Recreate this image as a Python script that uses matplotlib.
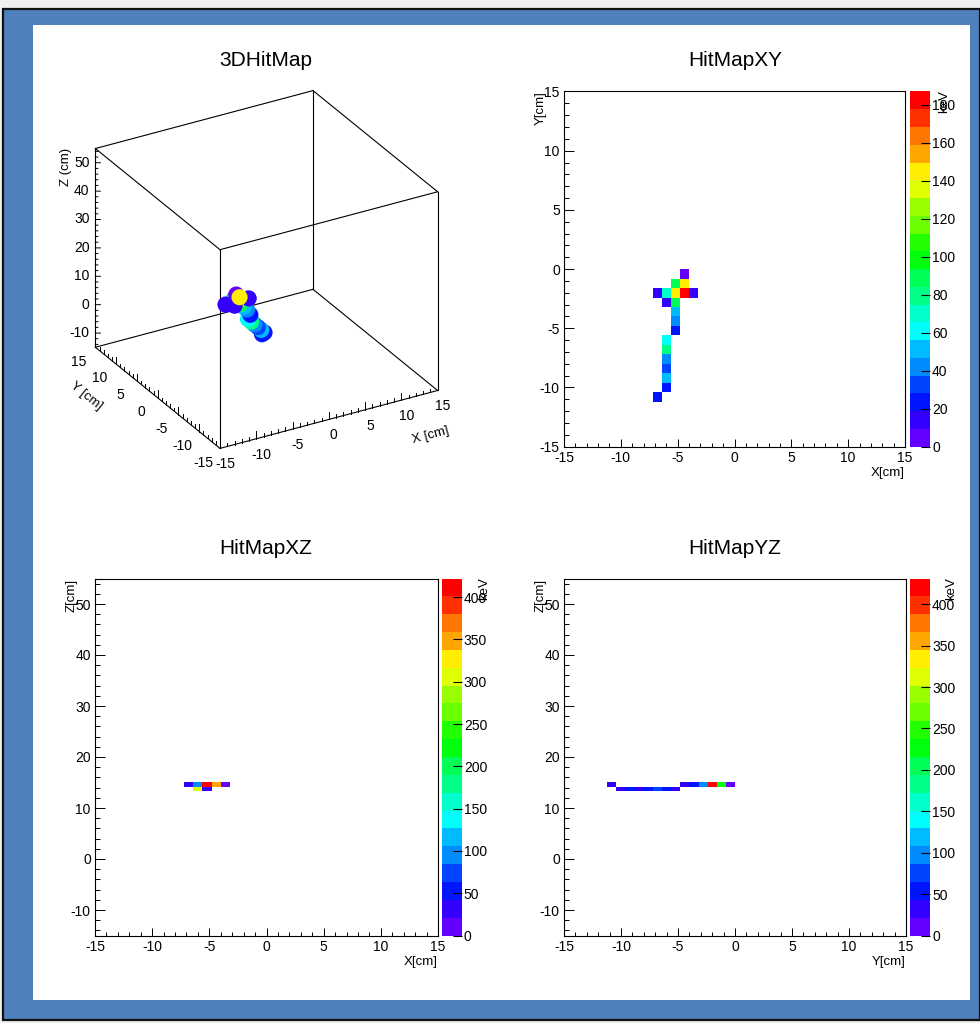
import colorsys
import math
import numpy as np
import matplotlib
matplotlib.use("Agg")
import matplotlib.pyplot as plt
from matplotlib.colors import ListedColormap, Normalize
from matplotlib.patches import Rectangle
from matplotlib.ticker import MultipleLocator
from mpl_toolkits.mplot3d import proj3d

# ------------------------------------------------------------------ data
# hits of the event (cm, cm, cm, keV), in drawing order
hit_x = [-4.4, -6.8, -6.0, -6.0, -6.0, -6.0, -6.0, -6.0, -5.2, -5.2,
         -5.2, -5.2, -5.2, -5.2, -6.0, -6.0, -6.8, -4.4, -3.6, -4.4]
hit_y = [-2.0, -10.8, -10.0, -9.2, -8.4, -7.6, -6.8, -6.0, -5.2, -4.4,
         -3.6, -2.8, -2.0, -1.2, -2.0, -2.8, -2.0, -0.4, -2.0, -1.2]
hit_z = [14.65, 14.65, 13.75, 13.75, 13.75, 13.75, 13.75, 13.75, 13.75, 14.65,
         14.65, 14.65, 14.65, 14.65, 14.65, 14.65, 14.65, 14.65, 14.65, 14.65]
hit_e = [187, 24, 26, 52, 32, 46, 80, 60, 24, 42,
         56, 90, 144, 90, 72, 16, 14, 8, 14, 145]

# histogram binning (cm)
xy_bin_lo, xy_bin_w, xy_nbins = -15.2, 0.8, 38
z_bin_ref, z_bin_w = 14.2, 0.9

# axis ranges and ticks
x_range = (-15, 15)
y_range = (-15, 15)
z_range = (-15, 55)
xy_ticks = [-15, -10, -5, 0, 5, 10, 15]
z_ticks = [-10, 0, 10, 20, 30, 40, 50]
cbar_xy_ticks = [0, 20, 40, 60, 80, 100, 120, 140, 160, 180]
cbar_z_ticks = [0, 50, 100, 150, 200, 250, 300, 350, 400]
titles = ["3DHitMap", "HitMapXY", "HitMapXZ", "HitMapYZ"]

# ------------------------------------------------------------------ style
plt.rcParams['font.family'] = ['Liberation Sans', 'DejaVu Sans']
plt.rcParams['axes.unicode_minus'] = False

W, H = 980, 1023
fig = plt.figure(figsize=(W / 100, H / 100), dpi=100, facecolor='#f0f0f0')


def rect(x0, y0, x1, y1):
    return [x0 / W, 1 - y1 / H, (x1 - x0) / W, (y1 - y0) / H]


fig.patches.append(Rectangle((3 / W, 1 - 1020 / H), (980 - 3) / W, (1020 - 9) / H,
                             transform=fig.transFigure, facecolor='#4f81bd',
                             edgecolor='#111111', linewidth=1.6, zorder=-10))
fig.patches.append(Rectangle((33 / W, 1 - 1000 / H), (970 - 33) / W, (1000 - 25) / H,
                             transform=fig.transFigure, facecolor='white',
                             edgecolor='none', zorder=-9))


def root_palette(n_levels=20, n_colors=50):
    hues = [280 - (i + 1) * 280 / n_colors for i in range(n_colors - 1)] + [0]
    cols = []
    for k in range(n_levels):
        p = int((k + 0.99) * n_colors / n_levels)
        cols.append(colorsys.hls_to_rgb(hues[p] / 360, 0.5, 1.0))
    return ListedColormap(cols)


cmap = root_palette()
FS = 10
TFS = 9.5

for t, (cx, cy) in zip(titles, [(266, 60), (735, 60), (266, 548), (735, 548)]):
    fig.text(cx / W, 1 - cy / H, t, ha='center', va='center', fontsize=15)

# ------------------------------------------------------------------ 2D maps
xy_edges = xy_bin_lo + xy_bin_w * np.arange(xy_nbins + 1)
z_edges = z_bin_ref + z_bin_w * np.arange(-33, 46)


def style_2d(ax, ylim, ymaj, ymin, xlabel, ylabel):
    ax.set_xlim(*x_range)
    ax.set_ylim(*ylim)
    ax.xaxis.set_major_locator(MultipleLocator(5))
    ax.xaxis.set_minor_locator(MultipleLocator(1))
    ax.yaxis.set_major_locator(MultipleLocator(ymaj))
    ax.yaxis.set_minor_locator(MultipleLocator(ymin))
    ax.tick_params(axis='x', which='major', direction='in', length=5.8, width=0.7,
                   labelsize=FS, pad=3.0, top=False)
    ax.tick_params(axis='x', which='minor', direction='in', length=2.9, width=0.7, top=False)
    ax.tick_params(axis='y', which='major', direction='in', length=7.2, width=0.7,
                   labelsize=FS, pad=3.0, right=False)
    ax.tick_params(axis='y', which='minor', direction='in', length=3.6, width=0.7, right=False)
    for s in ax.spines.values():
        s.set_linewidth(0.8)
    ax.annotate(xlabel, xy=(1, 0), xycoords='axes fraction', xytext=(0, -19),
                textcoords='offset points', ha='right', va='center', fontsize=TFS)
    ax.annotate(ylabel, xy=(0, 1), xycoords='axes fraction', xytext=(-16.5, 0),
                textcoords='offset points', ha='center', va='top', rotation=90, fontsize=TFS)


def colorbar(mesh, cax, ticks):
    cb = fig.colorbar(mesh, cax=cax, ticks=ticks)
    cb.outline.set_visible(False)
    cax.tick_params(direction='in', length=6.5, width=0.8, color='black',
                    labelsize=FS, pad=1.5)
    cax.minorticks_off()
    return cb


def draw_map(ax_rect, cax_rect, u, v, uedges, vedges, ylim, ymaj, ymin,
             xlabel, ylabel, ticks, kev_pos):
    ax = fig.add_axes(ax_rect)
    hist, _, _ = np.histogram2d(u, v, bins=[uedges, vedges], weights=hit_e)
    hist = np.ma.masked_where(hist <= 0, hist)
    mesh = ax.pcolormesh(uedges, vedges, hist.T, cmap=cmap,
                         norm=Normalize(0, hist.max()), edgecolors='none',
                         antialiased=False)
    style_2d(ax, ylim, ymaj, ymin, xlabel, ylabel)
    cax = fig.add_axes(cax_rect)
    colorbar(mesh, cax, ticks)
    fig.text(kev_pos[0] / W, 1 - kev_pos[1] / H, 'keV', rotation=90,
             ha='center', va='top', fontsize=TFS)
    return ax


draw_map(rect(564, 91.5, 905, 446.7), rect(910, 91.5, 930, 446.7),
         hit_x, hit_y, xy_edges, xy_edges, y_range, 5, 1,
         'X[cm]', 'Y[cm]', cbar_xy_ticks, (944, 90))
draw_map(rect(95, 578.5, 438, 935.5), rect(441.7, 578.5, 461.7, 935.5),
         hit_x, hit_z, xy_edges, z_edges, z_range, 10, 2,
         'X[cm]', 'Z[cm]', cbar_z_ticks, (484, 577))
draw_map(rect(564, 578.5, 906, 935.5), rect(910, 578.5, 930, 935.5),
         hit_y, hit_z, xy_edges, z_edges, z_range, 10, 2,
         'Y[cm]', 'Z[cm]', cbar_z_ticks, (951, 577))

# ------------------------------------------------------------------ 3D view
ax3 = fig.add_axes(rect(60, 60, 470, 470), projection='3d',
                   proj_type='ortho', computed_zorder=False)
ax3.view_init(elev=27.7, azim=-119.8)
ax3.set_box_aspect((1, 1, 0.895))
ax3.set_xlim(*x_range)
ax3.set_ylim(*y_range)
ax3.set_zlim(*z_range)
ax3.set_axis_off()
ax3.patch.set_visible(False)

x0, x1 = x_range
y0, y1 = y_range
z0, z1 = z_range
lk = dict(color='black', lw=0.8, clip_on=False, zorder=2)
for (ya, za) in [(y0, z0), (y1, z0), (y0, z1), (y1, z1)]:
    ax3.plot([x0, x1], [ya, ya], [za, za], **lk)
for (xa, za) in [(x0, z0), (x1, z0), (x0, z1), (x1, z1)]:
    ax3.plot([xa, xa], [y0, y1], [za, za], **lk)
for (xa, ya) in [(x0, y0), (x1, y0), (x0, y1), (x1, y1)]:
    ax3.plot([xa, xa], [ya, ya], [z0, z1], **lk)

tk = dict(color='black', lw=0.7, clip_on=False, zorder=2)
# Z axis ticks (left vertical edge), pointing to the screen right
for z in range(z0 + 1, z1, 2):
    L = 0.6 if z % 10 == 0 else 0.3
    ax3.plot([x0, x0 + 0.863 * L], [y1, y1 - 0.505 * L], [z, z], **tk)
# X and Y axis ticks, pointing up
for t in range(x0, x1 + 1):
    L = 2.6 if t % 5 == 0 else 1.3
    ax3.plot([t, t], [y0, y0], [z0, z0 + L], **tk)
for t in range(y0, y1 + 1):
    L = 2.6 if t % 5 == 0 else 1.3
    ax3.plot([x0, x0], [t, t], [z0, z0 + L], **tk)

norm3 = Normalize(0, max(hit_e))
for xh, yh, zh, eh in zip(hit_x, hit_y, hit_z, hit_e):
    ax3.scatter([xh], [yh], [zh], color=[cmap(norm3(eh))], s=135,
                edgecolors='none', depthshade=False, clip_on=False, zorder=3)

# place the projected box where the reference has it
corners = np.array([[a, b, c] for a in (x0, x1) for b in (y0, y1) for c in (z0, z1)], float)
target = (95, 438, H - 448, H - 91)   # display px: xmin, xmax, ymin, ymax


def to_disp(pts):
    pts = np.atleast_2d(np.asarray(pts, float))
    xs, ys, _ = proj3d.proj_transform(pts[:, 0], pts[:, 1], pts[:, 2], ax3.get_proj())
    return ax3.transData.transform(np.column_stack([xs, ys]))


for _ in range(3):
    fig.canvas.draw()
    disp = to_disp(corners)
    mw = disp[:, 0].max() - disp[:, 0].min()
    mh = disp[:, 1].max() - disp[:, 1].min()
    mcx = 0.5 * (disp[:, 0].max() + disp[:, 0].min())
    mcy = 0.5 * (disp[:, 1].max() + disp[:, 1].min())
    s = 0.5 * ((target[1] - target[0]) / mw + (target[3] - target[2]) / mh)
    pos = ax3.get_position(original=True)
    acx = (pos.x0 + pos.width / 2) * W
    acy = (pos.y0 + pos.height / 2) * H
    tcx = 0.5 * (target[0] + target[1])
    tcy = 0.5 * (target[2] + target[3])
    ncx = tcx - s * (mcx - acx)
    ncy = tcy - s * (mcy - acy)
    nw = pos.width * W * s
    nh = pos.height * H * s
    ax3.set_position([(ncx - nw / 2) / W, (ncy - nh / 2) / H, nw / W, nh / H])
fig.canvas.draw()


def label3d(p, s, ha='center', va='center', direction=None, fontsize=FS):
    d0 = to_disp(p)[0]
    rot = 0.0
    if direction is not None:
        d1 = to_disp(np.asarray(p, float) + np.asarray(direction, float))[0]
        rot = math.degrees(math.atan2(d1[1] - d0[1], d1[0] - d0[0]))
    fig.text(d0[0] / W, d0[1] / H, s, ha=ha, va=va, rotation=rot, fontsize=fontsize)


for z in z_ticks:
    label3d((x0 - 0.6, y1 + 0.35, z), str(z), ha='right')
for t in xy_ticks:
    label3d((x0 - 2.3, t, z0 - 3.5), str(t))
    label3d((t, y0 - 1.2, z0 - 4.2), str(t))
label3d((x0 - 3.0, y1 + 1.77, z1), 'Z (cm)', va='top', direction=(0, 0, 1), fontsize=TFS)
label3d((x0 - 3.8, 10.56, z0 - 9.4), 'Y [cm]', direction=(0, -1, 0), fontsize=TFS)
label3d((12.55, y0 - 2.6, z0 - 11.07), 'X [cm]', direction=(1, 0, 0), fontsize=TFS)

fig.savefig('out.png', dpi=100, facecolor=fig.get_facecolor())
